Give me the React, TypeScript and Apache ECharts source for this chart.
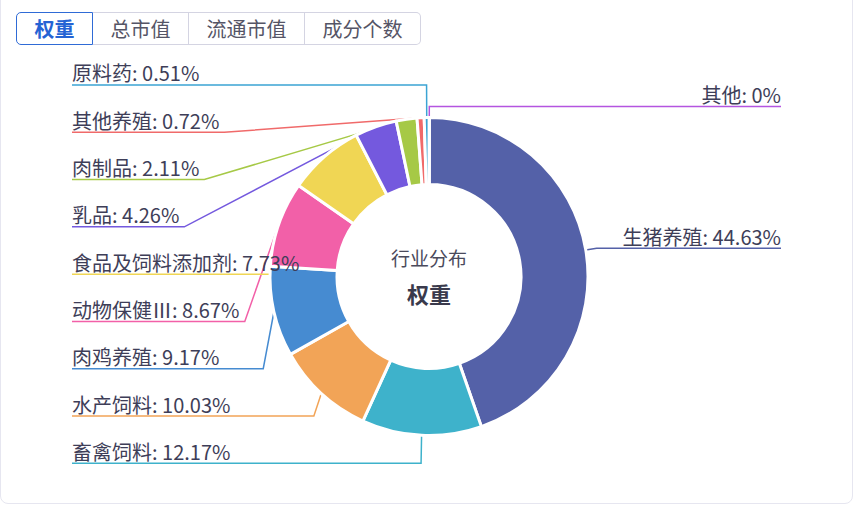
import React, { useEffect, useRef } from 'react';
import * as echarts from 'echarts';

const categories = ['生猪养殖', '畜禽饲料', '水产饲料', '肉鸡养殖', '动物保健Ⅲ', '食品及饲料添加剂', '乳品', '肉制品', '其他养殖', '原料药', '其他'];
const weights = [44.63, 12.17, 10.03, 9.17, 8.67, 7.73, 4.26, 2.11, 0.72, 0.51, 0];
const sliceColors = ['#5461a8', '#3eb2cb', '#f2a457', '#468bd1', '#f260a8', '#f0d654', '#7459de', '#a6c946', '#f06a6a', '#3ba4d4', '#b455e0'];
const tabs = ['权重', '总市值', '流通市值', '成分个数'];
const activeTab = 0;
const centerTitle = '行业分布';
const centerValue = '权重';

const FONT = '"Noto Sans CJK SC", "Noto Sans", sans-serif';
const CX = 429;
const CY = 276.5;

function Chart() {
  const ref = useRef<HTMLDivElement>(null);
  useEffect(() => {
    if (!ref.current) return;
    const chart = echarts.init(ref.current, undefined, { renderer: 'svg' });
    chart.setOption({
      animation: false,
      textStyle: { fontFamily: FONT },
      graphic: [
        {
          type: 'text',
          x: CX,
          y: 257,
          style: { text: centerTitle, fill: '#4a4a5c', font: `19px ${FONT}`, textAlign: 'center', textVerticalAlign: 'middle' },
          z: 100,
        },
        {
          type: 'text',
          x: CX,
          y: 293,
          style: { text: centerValue, fill: '#3a3a4c', font: `bold 22px ${FONT}`, textAlign: 'center', textVerticalAlign: 'middle' },
          z: 100,
        },
      ],
      series: [
        {
          type: 'pie',
          left: 0,
          top: 0,
          width: 853,
          height: 487,
          center: [CX, CY],
          radius: [92, 159],
          startAngle: 89.9,
          clockwise: true,
          avoidLabelOverlap: true,
          itemStyle: { borderColor: '#ffffff', borderWidth: 3 },
          label: {
            show: true,
            alignTo: 'edge',
            edgeDistance: 72,
            minMargin: 3.3,
            fontSize: 20,
            lineHeight: 20,
            padding: [0, 0, 24, 0],
            color: '#3e3e58',
            fontFamily: FONT,
            formatter: (p: any) => `${p.name}: ${p.value}%`,
          },
          labelLine: { show: true, length: 11, length2: 8, lineStyle: { width: 1.5 } },
          labelLayout: (params: any) => {
            const isLeft = params.labelRect.x < CX;
            const pts = params.labelLinePoints;
            if (pts) {
              pts[2][0] = isLeft ? params.labelRect.x : params.labelRect.x + params.labelRect.width;
            }
            return { labelLinePoints: pts, dy: -12 };
          },
          data: categories.map((name, i) => ({
            name,
            value: weights[i],
            itemStyle: { color: sliceColors[i] },
          })),
        },
      ],
    });
    return () => chart.dispose();
  }, []);
  return <div ref={ref} style={{ position: 'absolute', left: 0, top: 0, width: 853, height: 506 }} />;
}

export default function App() {
  return (
    <div style={{ position: 'fixed', left: 0, top: 0, width: 856, height: 506, background: '#fff', overflow: 'hidden', fontFamily: FONT }}>
      <div
        style={{
          position: 'absolute',
          left: 0,
          top: -12,
          width: 853,
          height: 516,
          border: '1px solid #e6e6f0',
          borderRadius: 8,
          boxSizing: 'border-box',
        }}
      />
      <Chart />
      <div style={{ position: 'absolute', left: 16, top: 12, display: 'flex', zIndex: 10 }}>
        {tabs.map((t, i) => {
          const active = i === activeTab;
          const b = active ? '1.5px solid #2f6bd6' : '1px solid #d4d4e2';
          return (
            <div
              key={t}
              style={{
                height: 33,
                boxSizing: 'border-box',
                padding: '0 17.5px',
                display: 'flex',
                alignItems: 'center',
                fontSize: 20,
                lineHeight: '20px',
                color: active ? '#2563d4' : '#555566',
                fontWeight: active ? 700 : 400,
                border: b,
                borderLeft: i === 0 || active ? b : 'none',
                borderRadius: i === 0 ? '5px 0 0 5px' : i === tabs.length - 1 ? '0 5px 5px 0' : 0,
                background: '#fff',
                position: 'relative',
                zIndex: active ? 2 : 1,
              }}
            >
              {t}
            </div>
          );
        })}
      </div>
    </div>
  );
}
